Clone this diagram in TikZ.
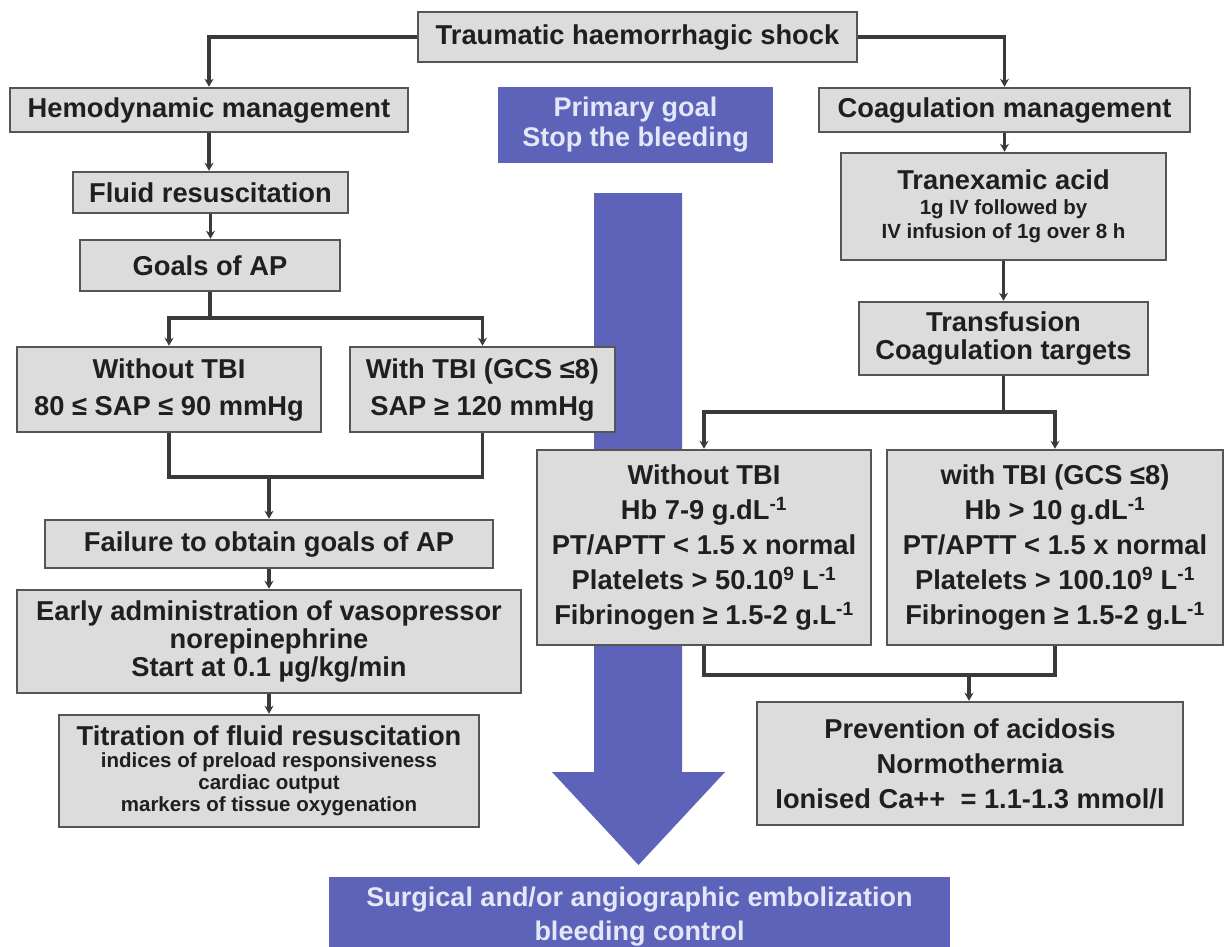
\documentclass[tikz,border=0pt]{standalone}
\usepackage{fontspec}
\setmainfont{Liberation Sans}
\usetikzlibrary{arrows.meta}
\definecolor{boxgray}{HTML}{DCDCDC}
\definecolor{edgegray}{HTML}{555555}
\definecolor{linegray}{HTML}{3A3A3A}
\definecolor{shockblue}{HTML}{5C63B8}
\definecolor{lav}{HTML}{E4E6FA}
\newcommand\smalltxt{\fontsize{20.5}{22}\selectfont}
\begin{document}
\begin{tikzpicture}[x=1pt,y=-1pt,
 gbox/.style={draw=edgegray,line width=2.5pt,fill=boxgray,inner sep=0pt,align=center,text=black!88,font=\bfseries\fontsize{27.3}{35}\selectfont},
 bbox/.style={fill=shockblue,inner sep=0pt,align=center,text=lav,font=\bfseries\fontsize{27}{30}\selectfont},
 conn/.style={draw=linegray,line width=3.8pt},
 arr/.style={conn,-{Stealth[length=8pt,width=9pt]}}]
\useasboundingbox (0,0) rectangle (1227,946);
\fill[white] (0,0) rectangle (1227,946);
% big blue arrow
\fill[shockblue] (594,193) -- (682,193) -- (682,772) -- (725,772) -- (638.5,865) -- (552,772) -- (594,772) -- cycle;
% blue boxes
\node[bbox,minimum width=275pt,minimum height=76pt] (primary) at (635.5,125) {Primary goal\\Stop the bleeding};
\node[bbox,minimum width=621pt,minimum height=80pt,font=\bfseries\fontsize{27}{34}\selectfont] (surgical) at (639.5,917) {Surgical and/or angiographic embolization\\bleeding control};
% gray boxes
\node[gbox,minimum width=439pt,minimum height=50pt] (shock) at (637.5,37) {Traumatic haemorrhagic shock};
\node[gbox,minimum width=398pt,minimum height=44pt] (hemo) at (209,110) {Hemodynamic management};
\node[gbox,minimum width=371pt,minimum height=44pt] (coag) at (1004.5,110) {Coagulation management};
\node[gbox,minimum width=275pt,minimum height=41pt] (fluid) at (210.5,192.5) {Fluid resuscitation};
\node[gbox,minimum width=325pt,minimum height=107pt,font=\bfseries\fontsize{27.3}{28}\selectfont] (tranex) at (1003.5,206.5) {Tranexamic acid\\[-3pt]{\smalltxt 1g IV followed by}\\[-4pt]{\smalltxt IV infusion of 1g over 8 h}};
\node[gbox,minimum width=260pt,minimum height=51pt] (goals) at (210,265.5) {Goals of AP};
\node[gbox,minimum width=289pt,minimum height=73pt,font=\bfseries\fontsize{27.3}{28}\selectfont] (transf) at (1003.5,338.5) {Transfusion\\Coagulation targets};
\node[gbox,minimum width=304pt,minimum height=85pt,font=\bfseries\fontsize{27.3}{37}\selectfont] (woL) at (169,389.5) {Without TBI\\80 ≤ SAP ≤ 90 mmHg};
\node[gbox,minimum width=265pt,minimum height=85pt,font=\bfseries\fontsize{27.3}{37}\selectfont] (wL) at (482.5,389.5) {With TBI (GCS ≤8)\\SAP ≥ 120 mmHg};
\node[gbox,minimum width=334pt,minimum height=195pt] (woR) at (704,547.5) {Without TBI\\Hb 7-9 g.dL\textsuperscript{-1}\\PT/APTT < 1.5 x normal\\Platelets > 50.10\textsuperscript{9} L\textsuperscript{-1}\\Fibrinogen ≥ 1.5-2 g.L\textsuperscript{-1}};
\node[gbox,minimum width=336pt,minimum height=195pt] (wR) at (1055,547.5) {with TBI (GCS ≤8)\\Hb > 10 g.dL\textsuperscript{-1}\\PT/APTT < 1.5 x normal\\Platelets > 100.10\textsuperscript{9} L\textsuperscript{-1}\\Fibrinogen ≥ 1.5-2 g.L\textsuperscript{-1}};
\node[gbox,minimum width=448pt,minimum height=48pt] (failure) at (269,544) {Failure to obtain goals of AP};
\node[gbox,minimum width=504pt,minimum height=103pt,font=\bfseries\fontsize{27.3}{28}\selectfont] (early) at (269,641.5) {Early administration of vasopressor\\norepinephrine\\Start at 0.1 µg/kg/min};
\node[gbox,minimum width=420pt,minimum height=112pt,font=\bfseries\fontsize{27.3}{26}\selectfont] (titr) at (269,771) {Titration of fluid resuscitation\\[-4pt]{\smalltxt indices of preload responsiveness}\\[-4pt]{\smalltxt cardiac output}\\[-4pt]{\smalltxt markers of tissue oxygenation}};
\node[gbox,minimum width=426pt,minimum height=123pt] (prev) at (970,763.5) {Prevention of acidosis\\Normothermia\\Ionised Ca++ \ = 1.1-1.3 mmol/l};
% connectors
\draw[arr] (shock.west) -| (hemo.north);
\draw[arr] (shock.east) -| (coag.north);
\draw[arr] (hemo.south) -- (hemo.south |- fluid.north);
\draw[arr] (fluid.south) -- (fluid.south |- goals.north);
\coordinate (gsplit) at (210,318);
\draw[conn] (goals.south) -- (gsplit);
\draw[arr] (gsplit) -| (woL.north);
\draw[arr] (gsplit) -| (wL.north);
\coordinate (lmerge) at (269,477);
\draw[conn] (woL.south) |- (lmerge);
\draw[conn] (wL.south) |- (lmerge);
\draw[arr] (lmerge) -- (failure.north);
\draw[arr] (failure.south) -- (early.north);
\draw[arr] (early.south) -- (titr.north);
\draw[arr] (coag.south) -- (coag.south |- tranex.north);
\draw[arr] (tranex.south) -- (tranex.south |- transf.north);
\coordinate (rsplit) at (1004,412);
\draw[conn] (transf.south) -- (transf.south |- rsplit);
\draw[arr] (rsplit) -| (woR.north);
\draw[arr] (rsplit) -| (wR.north);
\coordinate (rmerge) at (969,675);
\draw[conn] (woR.south) |- (rmerge);
\draw[conn] (wR.south) |- (rmerge);
\draw[arr] (rmerge) -- (prev.north -| rmerge);
\end{tikzpicture}
\end{document}
